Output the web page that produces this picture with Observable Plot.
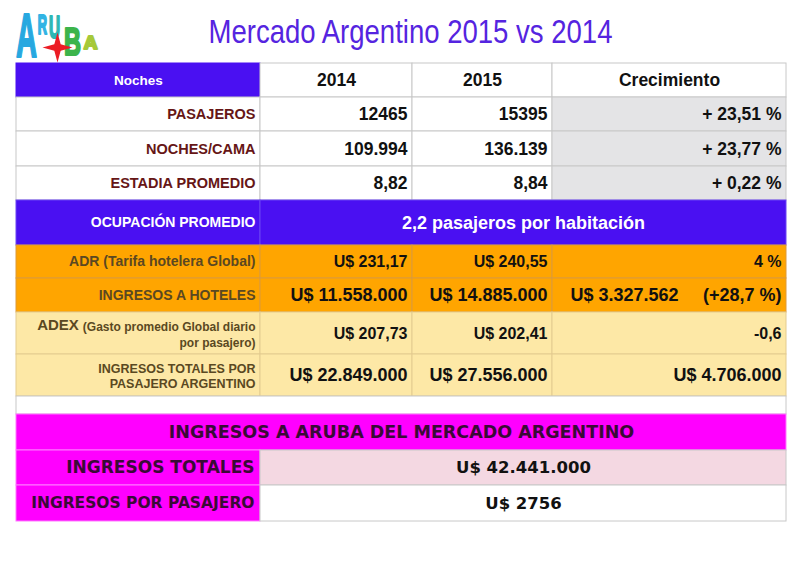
<!DOCTYPE html>
<html><head><meta charset="utf-8">
<script src="https://cdn.jsdelivr.net/npm/d3@7"></script>
<script src="https://cdn.jsdelivr.net/npm/@observablehq/plot@0.6"></script>
<style>body{margin:0;background:#fff}</style>
</head><body><div id="chart"></div>
<script>
// ---------- data ----------
const title = "Mercado Argentino 2015 vs 2014";
const headerLabels = ["Noches", "2014", "2015", "Crecimiento"];
const basicLabels = ["PASAJEROS", "NOCHES/CAMA", "ESTADIA PROMEDIO"];
const basic2014 = ["12465", "109.994", "8,82"];
const basic2015 = ["15395", "136.139", "8,84"];
const basicGrowth = ["+ 23,51 %", "+ 23,77 %", "+ 0,22 %"];
const occupancyLabel = "OCUPACIÓN PROMEDIO";
const occupancyValue = "2,2 pasajeros por habitación";
const hotelLabels = ["ADR (Tarifa hotelera Global)", "INGRESOS A HOTELES"];
const hotel2014 = ["U$ 231,17", "U$ 11.558.000"];
const hotel2015 = ["U$ 240,55", "U$ 14.885.000"];
const hotelGrowthAmount = ["", "U$ 3.327.562"];
const hotelGrowth = ["4 %", "(+28,7 %)"];
const spendLabelHeads = ["ADEX", ""];
const spendLabels = ["(Gasto promedio Global diario\npor pasajero)", "INGRESOS TOTALES POR\nPASAJERO ARGENTINO"];
const spend2014 = ["U$ 207,73", "U$ 22.849.000"];
const spend2015 = ["U$ 202,41", "U$ 27.556.000"];
const spendGrowth = ["-0,6", "U$ 4.706.000"];
const arubaTitle = "INGRESOS A ARUBA DEL MERCADO ARGENTINO";
const arubaLabels = ["INGRESOS TOTALES", "INGRESOS POR PASAJERO"];
const arubaValues = ["U$ 42.441.000", "U$ 2756"];
const logoLetters = ["A", "R", "U", "B", "A"];

// ---------- layout & style ----------
const W = 800, H = 577;
const SANS = "'Liberation Sans', Arial, Helvetica, sans-serif";
const GRANDE = "'DejaVu Sans', Verdana, sans-serif";
const col = [16, 260, 412, 552, 786];
const R = {
  header: [63, 97],
  basic: [[97, 131], [131, 166], [166, 200]],
  occ: [200, 245],
  hotel: [[245, 278], [278, 312]],
  spend: [[312, 354], [354, 396]],
  gap: [396, 414],
  aruba: [414, 450],
  arubaRows: [[450, 485], [485, 521]]
};
const labelRight = 255, pad = 5;
const C = {
  blue: "#4a10f2", blueLine: "#6a44f4", grey: "#c8c8c8", lightGrey: "#e4e4e6",
  orange: "#ffa500", orangeLine: "#dc9a3a", yellow: "#fde8a6", yellowLine: "#e3cc90",
  magenta: "#ff00ff", magentaLine: "#ff7aff", pink: "#f4d8e2",
  maroon: "#661616", olive: "#5a4822", purpleText: "#3a0a36", title: "#5524e0"
};
const titleLayout = {x: 410, y: 32, size: 34, squeeze: 0.81};
const logoLayout = {
  x: [26, 42, 54, 72, 90], y: [37, 25, 27, 42, 42],
  size: [62, 28, 32, 38, 19],
  sx: [0.47, 0.46, 0.48, 0.62, 1.0],
  color: ["#27a8e0", "#31b4e4", "#2db7b4", "#3cb44b", "#a6c93a"]
};
const starLayout = {x: 57, y: 47, r: 15, color: "#ec1c24"};

// ---------- build cells & texts ----------
const mid = (a, b) => (a + b) / 2;
const cells = [], texts = [];
const cell = (x1, x2, [y1, y2], fill, stroke) => cells.push({x1, x2, y1, y2, fill, stroke});
const txt = (x, y, text, o = {}) => texts.push({
  x, y, text, size: o.size || 14, fill: o.fill || "#111", anchor: o.anchor || "end",
  family: o.family || SANS, weight: o.weight || "bold", lh: o.lh || 1
});
const measure = (() => {
  const ctx = document.createElement("canvas").getContext("2d");
  return (s, size, family = SANS) => { ctx.font = `bold ${size}px ${family}`; return ctx.measureText(s).width; };
})();

// header
cell(col[0], col[1], R.header, C.blue, C.blue);
for (let i = 1; i < 4; i++) cell(col[i], col[i + 1], R.header, "#fff", C.grey);
txt(mid(col[0], col[1]), mid(...R.header), headerLabels[0], {size: 13.5, fill: "#fff", anchor: "middle"});
for (let i = 1; i < 4; i++) txt(mid(col[i], col[i + 1]), mid(...R.header), headerLabels[i], {size: 17.5, anchor: "middle"});

// basic rows
basicLabels.forEach((lab, i) => {
  const r = R.basic[i], ym = mid(...r);
  cell(col[0], col[1], r, "#fff", C.grey);
  cell(col[1], col[2], r, "#fff", C.grey);
  cell(col[2], col[3], r, "#fff", C.grey);
  cell(col[3], col[4], r, C.lightGrey, C.grey);
  txt(labelRight, ym, lab, {size: 14.5, fill: C.maroon});
  txt(col[2] - pad, ym, basic2014[i], {size: 17.5});
  txt(col[3] - pad, ym, basic2015[i], {size: 17.5});
  txt(col[4] - pad, ym, basicGrowth[i], {size: 17.5});
});

// occupancy
cell(col[0], col[1], R.occ, C.blue, C.blueLine);
cell(col[1], col[4], R.occ, C.blue, C.blueLine);
txt(labelRight, mid(...R.occ), occupancyLabel, {size: 14, fill: "#fff"});
txt(mid(col[1], col[4]), mid(...R.occ), occupancyValue, {size: 18, fill: "#fff", anchor: "middle"});

// hotel rows
hotelLabels.forEach((lab, i) => {
  const r = R.hotel[i], ym = mid(...r), vs = i === 0 ? 16 : 18;
  for (let c = 0; c < 4; c++) cell(col[c], col[c + 1], r, C.orange, C.orangeLine);
  txt(labelRight, ym, lab, {size: 14, fill: C.olive});
  txt(col[2] - pad, ym, hotel2014[i], {size: vs});
  txt(col[3] - pad, ym, hotel2015[i], {size: vs});
  if (hotelGrowthAmount[i]) txt(col[3] + 18, ym, hotelGrowthAmount[i], {size: vs, anchor: "start"});
  txt(col[4] - pad, ym, hotelGrowth[i], {size: vs});
});

// spend rows
spendLabels.forEach((lab, i) => {
  const r = R.spend[i], ym = mid(...r), vs = i === 0 ? 16 : 18;
  for (let c = 0; c < 4; c++) cell(col[c], col[c + 1], r, C.yellow, C.yellowLine);
  const ls = i === 0 ? 12 : 12.5, lh = i === 0 ? 1.33 : 1.25;
  txt(labelRight, ym, lab, {size: ls, fill: C.olive, lh});
  if (spendLabelHeads[i]) {
    const first = lab.split("\n")[0];
    txt(labelRight - measure(first, ls) - 4, ym - ls * lh / 2, spendLabelHeads[i], {size: 15, fill: C.olive});
  }
  txt(col[2] - pad, ym, spend2014[i], {size: vs});
  txt(col[3] - pad, ym, spend2015[i], {size: vs});
  txt(col[4] - pad, ym, spendGrowth[i], {size: vs});
});

// gap
cell(col[0], col[4], R.gap, "#fff", C.grey);

// aruba section
cell(col[0], col[4], R.aruba, C.magenta, C.magentaLine);
txt(mid(col[0], col[4]), mid(...R.aruba), arubaTitle, {size: 17.5, fill: C.purpleText, anchor: "middle", family: GRANDE});
arubaLabels.forEach((lab, i) => {
  const r = R.arubaRows[i], ym = mid(...r);
  cell(col[0], col[1], r, C.magenta, C.magentaLine);
  cell(col[1], col[4], r, i === 0 ? C.pink : "#fff", C.grey);
  txt(labelRight - 1, ym, lab, {size: i === 0 ? 17 : 15.5, fill: C.purpleText, family: GRANDE});
  txt(mid(col[1], col[4]), ym, arubaValues[i], {size: 16.5, anchor: "middle", family: GRANDE});
});

// ---------- marks ----------
const groups = d3.groups(texts, d => [d.anchor, d.family, d.weight, d.lh].join("|"));
const textMarks = groups.map(([, g]) => Plot.text(g, {
  x: "x", y: "y", text: "text", fontSize: "size", fill: "fill",
  textAnchor: g[0].anchor, fontFamily: g[0].family, fontWeight: g[0].weight,
  lineHeight: g[0].lh, lineAnchor: "middle"
}));

const logo = logoLetters.map((t, i) => ({
  t, x: logoLayout.x[i], y: logoLayout.y[i], size: logoLayout.size[i], color: logoLayout.color[i]
}));
const star4 = {
  draw(ctx, size) {
    const Ro = Math.sqrt(size / Math.PI), ri = Ro * 0.3;
    for (let k = 0; k < 8; k++) {
      const a = k * Math.PI / 4 - Math.PI / 2, rr = k % 2 ? ri : Ro;
      const px = rr * Math.cos(a), py = rr * Math.sin(a);
      k ? ctx.lineTo(px, py) : ctx.moveTo(px, py);
    }
    ctx.closePath();
  }
};

const chart = Plot.plot({
  width: W, height: H, margin: 0,
  x: {domain: [0, W], range: [0, W], axis: null},
  y: {domain: [0, H], range: [0, H], axis: null},
  color: {type: "identity"},
  style: {background: "#fff"},
  marks: [
    Plot.rect(cells, {x1: "x1", x2: "x2", y1: "y1", y2: "y2", fill: "fill", stroke: "stroke", strokeWidth: 1}),
    ...textMarks,
    Plot.text([title], {x: () => titleLayout.x, y: () => titleLayout.y, text: d => d, fontSize: titleLayout.size, fill: C.title, fontFamily: SANS, lineAnchor: "middle"}),
    Plot.text(logo, {x: "x", y: "y", text: "t", fontSize: "size", fill: "color", stroke: "color", strokeWidth: 2.2, strokeLinejoin: "round", fontFamily: SANS, fontWeight: "bold", lineAnchor: "middle"}),
    Plot.dot([starLayout], {x: "x", y: "y", r: starLayout.r, fill: "color", symbol: star4, stroke: null})
  ]
});

// horizontally condense title and logo letters (condensed typefaces are not installed)
function squeeze(el, sx) {
  const t = el.getAttribute("transform");
  if (t) el.setAttribute("transform", `${t} scale(${sx},1)`);
  else {
    const x = +el.getAttribute("x") || 0, y = +el.getAttribute("y") || 0;
    el.removeAttribute("x"); el.removeAttribute("y");
    el.setAttribute("transform", `translate(${x},${y}) scale(${sx},1)`);
  }
}
const markGroups = Array.from(chart.children).filter(n => n.tagName.toLowerCase() === "g");
const titleGroup = markGroups[1 + textMarks.length];
const logoGroup = markGroups[2 + textMarks.length];
if (titleGroup) titleGroup.querySelectorAll("text").forEach(el => squeeze(el, titleLayout.squeeze));
if (logoGroup) logoGroup.querySelectorAll("text").forEach((el, i) => squeeze(el, logoLayout.sx[i]));

document.getElementById("chart").appendChild(chart);
</script>
</body></html>
